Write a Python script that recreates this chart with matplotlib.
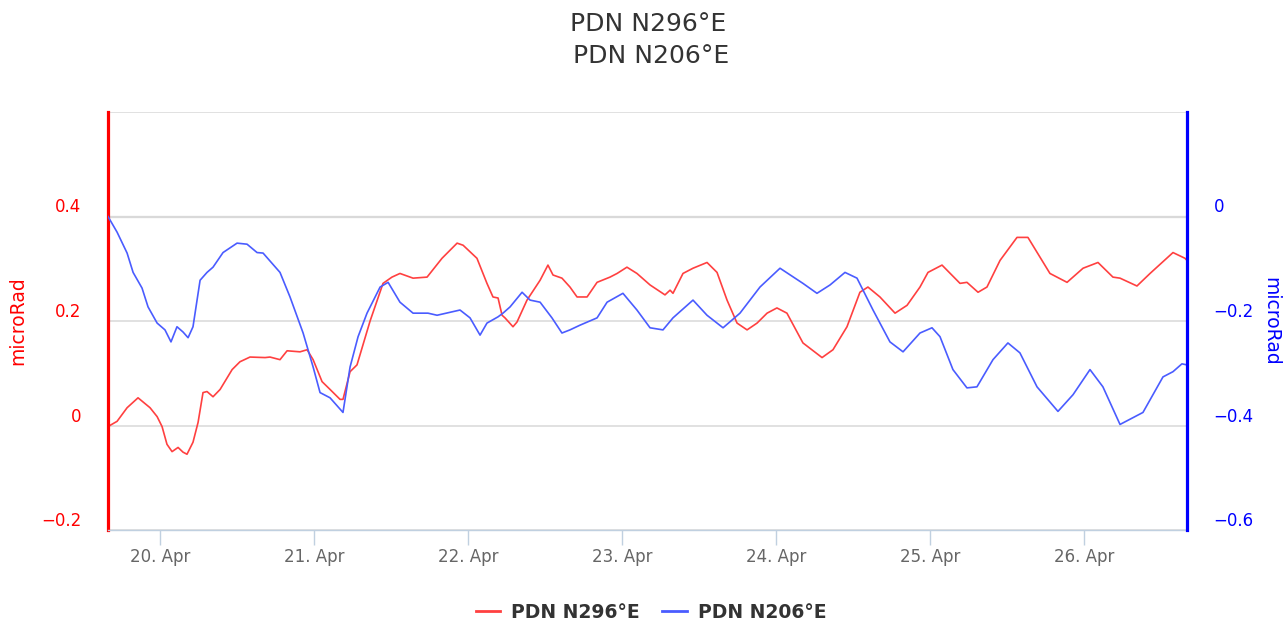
import datetime as dt
import matplotlib
matplotlib.use("Agg")
import matplotlib.pyplot as plt
import matplotlib.dates as mdates
from matplotlib.lines import Line2D

# April day (fractional) and values in microRad
red_days = [19.662, 19.721, 19.786, 19.857, 19.935, 19.981, 20.013, 20.045, 20.078, 20.117,
            20.149, 20.175, 20.214, 20.247, 20.279, 20.305, 20.344, 20.390, 20.468, 20.519,
            20.584, 20.682, 20.714, 20.779, 20.825, 20.909, 20.955, 20.994, 21.052, 21.104,
            21.169, 21.188, 21.234, 21.279, 21.364, 21.448, 21.506, 21.558, 21.643, 21.734,
            21.831, 21.929, 21.968, 22.058, 22.123, 22.162, 22.195, 22.221, 22.240, 22.292,
            22.318, 22.383, 22.468, 22.519, 22.552, 22.610, 22.662, 22.708, 22.773, 22.838,
            22.922, 22.968, 23.032, 23.097, 23.182, 23.279, 23.312, 23.331, 23.396, 23.461,
            23.552, 23.617, 23.682, 23.747, 23.812, 23.877, 23.942, 24.006, 24.071, 24.175,
            24.299, 24.370, 24.461, 24.545, 24.597, 24.675, 24.773, 24.851, 24.935, 24.987,
            25.078, 25.195, 25.240, 25.312, 25.370, 25.455, 25.565, 25.636, 25.779, 25.890,
            25.994, 26.091, 26.188, 26.234, 26.344, 26.429, 26.578, 26.656, 26.669]
red_vals = [-0.002, 0.008, 0.034, 0.053, 0.034, 0.017, -0.002, -0.036, -0.050, -0.042,
            -0.051, -0.055, -0.032, 0.006, 0.063, 0.065, 0.055, 0.069, 0.107, 0.122,
            0.131, 0.130, 0.131, 0.126, 0.143, 0.141, 0.145, 0.126, 0.084, 0.069,
            0.050, 0.050, 0.103, 0.116, 0.200, 0.272, 0.284, 0.291, 0.282, 0.284,
            0.320, 0.349, 0.345, 0.320, 0.272, 0.246, 0.244, 0.211, 0.206, 0.189,
            0.198, 0.240, 0.278, 0.307, 0.288, 0.282, 0.265, 0.246, 0.246, 0.274,
            0.284, 0.291, 0.303, 0.291, 0.269, 0.250, 0.259, 0.253, 0.291, 0.301,
            0.312, 0.293, 0.240, 0.196, 0.183, 0.196, 0.215, 0.225, 0.215, 0.158,
            0.130, 0.145, 0.189, 0.255, 0.265, 0.246, 0.215, 0.230, 0.265, 0.293,
            0.307, 0.272, 0.274, 0.255, 0.265, 0.316, 0.360, 0.360, 0.291, 0.274,
            0.301, 0.312, 0.284, 0.282, 0.267, 0.291, 0.331, 0.320, 0.316]

blue_days = [19.662, 19.721, 19.786, 19.825, 19.883, 19.922, 19.981, 20.032, 20.071, 20.110,
             20.149, 20.182, 20.214, 20.260, 20.305, 20.344, 20.409, 20.500, 20.565, 20.630,
             20.669, 20.779, 20.844, 20.929, 20.994, 21.039, 21.104, 21.188, 21.234, 21.286,
             21.344, 21.429, 21.481, 21.558, 21.643, 21.740, 21.799, 21.948, 22.013, 22.078,
             22.123, 22.195, 22.227, 22.273, 22.351, 22.403, 22.468, 22.545, 22.610, 22.662,
             22.727, 22.838, 22.903, 23.006, 23.097, 23.182, 23.266, 23.331, 23.461, 23.552,
             23.656, 23.766, 23.896, 24.026, 24.175, 24.266, 24.351, 24.448, 24.526, 24.630,
             24.740, 24.825, 24.935, 25.013, 25.065, 25.149, 25.240, 25.305, 25.409, 25.506,
             25.584, 25.695, 25.831, 25.929, 26.039, 26.123, 26.234, 26.383, 26.513, 26.578,
             26.636, 26.669]
blue_vals = [0.000, -0.030, -0.070, -0.107, -0.137, -0.173, -0.204, -0.217, -0.240, -0.211,
             -0.221, -0.232, -0.211, -0.122, -0.107, -0.097, -0.069, -0.051, -0.053, -0.069,
             -0.070, -0.107, -0.154, -0.223, -0.288, -0.337, -0.347, -0.375, -0.288, -0.230,
             -0.185, -0.135, -0.126, -0.164, -0.185, -0.185, -0.189, -0.179, -0.194, -0.227,
             -0.204, -0.192, -0.185, -0.173, -0.145, -0.160, -0.164, -0.194, -0.223, -0.217,
             -0.208, -0.194, -0.164, -0.147, -0.179, -0.213, -0.217, -0.194, -0.160, -0.189,
             -0.213, -0.185, -0.135, -0.099, -0.128, -0.147, -0.131, -0.107, -0.118, -0.179,
             -0.240, -0.259, -0.223, -0.213, -0.230, -0.293, -0.328, -0.326, -0.274, -0.242,
             -0.261, -0.326, -0.373, -0.341, -0.293, -0.326, -0.398, -0.375, -0.307, -0.297,
             -0.282, -0.284]

day_ticks = [20, 21, 22, 23, 24, 25, 26]
left_ticks = [-0.2, 0, 0.2, 0.4, 0.6]
left_labels = ["\u22120.2", "0", "0.2", "0.4", ""]
right_ticks = [-0.6, -0.4, -0.2, 0, 0.2]
right_labels = ["\u22120.6", "\u22120.4", "\u22120.2", "0", ""]
names = ["PDN N296°E", "PDN N206°E"]

RED = "#ff4040"
BLUE = "#4a5cff"

base = dt.datetime(2019, 4, 1)


def to_time(days):
    return [base + dt.timedelta(days=d - 1) for d in days]


W, H = 1285, 623
fig = plt.figure(figsize=(W / 100, H / 100), dpi=100)
x0, x1, y0, y1 = 108, 1187, 112, 530
ax = fig.add_axes([x0 / W, 1 - y1 / H, (x1 - x0) / W, (y1 - y0) / H])
ax2 = ax.twinx()

ax.plot(to_time(red_days), red_vals, color=RED, lw=1.2)
ax2.plot(to_time(blue_days), blue_vals, color=BLUE, lw=1.2)

ax.set_xlim(to_time([19.662, 26.669]))
ax.set_ylim(-0.2, 0.6)
ax2.set_ylim(-0.6, 0.2)

# grid
ax.set_yticks(left_ticks)
ax.set_yticklabels(left_labels)
ax.grid(axis="y", color="#dcdcdc", lw=1.2)
ax.axhline(0.4, color="#cccccc", lw=1.6, zorder=0.5)
ax.set_axisbelow(True)

ax2.set_yticks(right_ticks)
ax2.set_yticklabels(right_labels)

ax.tick_params(axis="y", length=0, pad=19, labelcolor="red", labelsize=12)
ax2.tick_params(axis="y", length=0, pad=19, labelcolor="blue", labelsize=12)
for lbl in ax.get_yticklabels() + ax2.get_yticklabels():
    lbl.set_va("bottom")

ax.xaxis.set_major_locator(mdates.DayLocator())
ax.xaxis.set_major_formatter(mdates.DateFormatter("%d. %b"))
ax.tick_params(axis="x", length=11, width=1, color="#c0d0e0", labelcolor="#666666",
               labelsize=12, pad=2)

for a in (ax, ax2):
    for s in a.spines.values():
        s.set_visible(False)
ax.spines["left"].set_visible(True)
ax.spines["left"].set_color("red")
ax.spines["left"].set_linewidth(2.3)
ax.spines["bottom"].set_visible(True)
ax.spines["bottom"].set_color("#c0d0e0")
ax.spines["bottom"].set_linewidth(1)
ax2.spines["right"].set_visible(True)
ax2.spines["right"].set_color("blue")
ax2.spines["right"].set_linewidth(2.3)

fig.text(18 / W, 1 - 321 / H, "microRad", rotation=90, ha="center", va="center",
         color="red", fontsize=13.5)
fig.text(1271 / W, 1 - 321 / H, "microRad", rotation=270, ha="center", va="center",
         color="blue", fontsize=13.5)

fig.text(648 / W, 1 - 24 / H, names[0], ha="center", va="center", color="#333333", fontsize=18)
fig.text(651 / W, 1 - 56 / H, names[1], ha="center", va="center", color="#333333", fontsize=18)

handles = [Line2D([], [], color=RED, lw=2), Line2D([], [], color=BLUE, lw=2)]
fig.legend(handles, names, loc="center", bbox_to_anchor=(651 / W, 1 - 612 / H), ncol=2,
           frameon=False, handlelength=1.3, handletextpad=0.6, columnspacing=1.2,
           prop={"weight": "bold", "size": 13.5}, labelcolor="#333333")

fig.savefig("out.png", dpi=100)
